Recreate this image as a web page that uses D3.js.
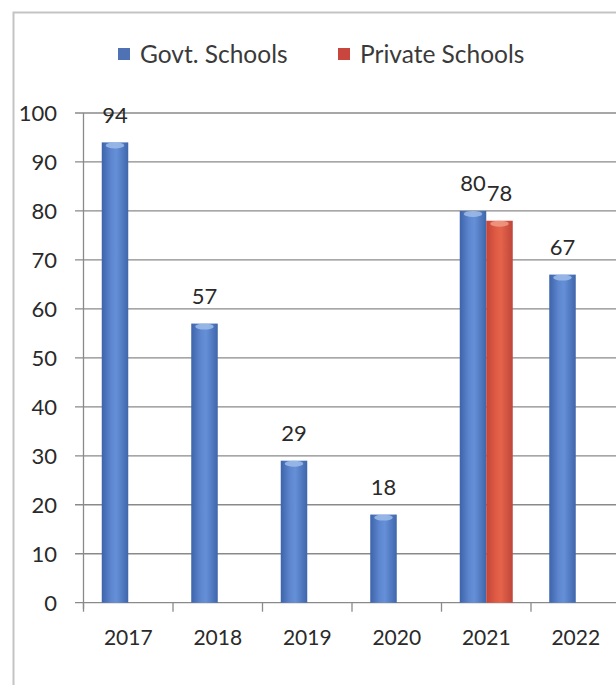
<!DOCTYPE html>
<html><head><meta charset="utf-8">
<script src="https://cdn.jsdelivr.net/npm/d3@7"></script>
<style>body{margin:0;background:#fff}svg{display:block}</style>
</head><body>
<svg id="c" width="616" height="685"></svg>
<script>
const categories = ["2017","2018","2019","2020","2021","2022"];
const seriesNames = ["Govt. Schools","Private Schools"];
const govt = [94,57,29,18,80,67];
const priv = [null,null,null,null,78,null];
const yTicks = [0,10,20,30,40,50,60,70,80,90,100];

const svg = d3.select("#c");
const font = "Lato, 'Open Sans', sans-serif";
const W = 616, H = 685;
const left = 83.5, step = 89.5;
const x = d3.scaleBand().domain(categories).range([left, left + step*categories.length]).paddingInner(0).paddingOuter(0);
const x1 = d3.scaleBand().domain(seriesNames).range([step/2 - 26.5, step/2 + 26.5]);
const y = d3.scaleLinear().domain([0,100]).range([602.7, 113]);

const defs = svg.append("defs");
function grad(id, stops){
  const g = defs.append("linearGradient").attr("id", id).attr("x1","0").attr("x2","1").attr("y1","0").attr("y2","0");
  stops.forEach(s => g.append("stop").attr("offset", s[0]).attr("stop-color", s[1]));
}
grad("gBlue", [[0,"#3d64aa"],[0.35,"#5d86cf"],[0.55,"#6590d8"],[1,"#3f66ab"]]);
grad("gRed", [[0,"#c2443a"],[0.35,"#df5a44"],[0.55,"#e4634a"],[1,"#c0463a"]]);

// frame
svg.append("path").attr("d", `M13.5,${H} V12.5 H${W}`).attr("fill","none").attr("stroke","#c4c4c4").attr("stroke-width",2);

// gridlines
svg.append("g").selectAll("line").data(yTicks).join("line")
  .attr("x1", 75).attr("x2", W).attr("y1", d => y(d)).attr("y2", d => y(d))
  .attr("stroke", "#8a8a8a").attr("stroke-width", 1.3);

// y axis line
svg.append("line").attr("x1", left).attr("x2", left).attr("y1", y(100)).attr("y2", y(0)+6)
  .attr("stroke", "#8a8a8a").attr("stroke-width", 1.3);

// y labels
svg.append("g").selectAll("text").data(yTicks).join("text")
  .attr("x", 57).attr("y", d => y(d)).attr("dy", "0.36em").attr("text-anchor","end")
  .attr("font-family", font).attr("font-size", 22).attr("fill","#2a2a2a").text(d => d);

// x ticks
const bounds = categories.map(c => x(c));
svg.append("g").selectAll("line").data(bounds).join("line")
  .attr("x1", d => d).attr("x2", d => d).attr("y1", y(0)).attr("y2", y(0)+9)
  .attr("stroke", "#8a8a8a").attr("stroke-width", 1.3);

// x labels
svg.append("g").selectAll("text").data(categories).join("text")
  .attr("x", d => x(d) + x.bandwidth()/2).attr("y", 637).attr("dy","0.36em").attr("text-anchor","middle")
  .attr("font-family", font).attr("font-size", 21).attr("fill","#2a2a2a").text(d => d);

// bars
const data = [];
categories.forEach((c,i) => {
  if (govt[i] != null) data.push({c, s: seriesNames[0], v: govt[i], fill: "url(#gBlue)", cap: "#9fbcea"});
  if (priv[i] != null) data.push({c, s: seriesNames[1], v: priv[i], fill: "url(#gRed)", cap: "#f09a86"});
});
const bars = svg.append("g").selectAll("g").data(data).join("g");
bars.append("rect")
  .attr("x", d => x(d.c) + x1(d.s)).attr("width", x1.bandwidth())
  .attr("y", d => y(d.v)).attr("height", d => y(0) - y(d.v))
  .attr("fill", d => d.fill);
bars.append("ellipse")
  .attr("cx", d => x(d.c) + x1(d.s) + x1.bandwidth()/2).attr("cy", d => y(d.v) + 3)
  .attr("rx", d => x1.bandwidth()/2 - 4).attr("ry", 3)
  .attr("fill", d => d.cap).attr("opacity", 0.85);

// data labels
bars.append("text")
  .attr("x", d => x(d.c) + x1(d.s) + x1.bandwidth()/2)
  .attr("y", d => y(d.v) - 19.5)
  .attr("text-anchor","middle").attr("font-family", font).attr("font-size", 22).attr("fill","#2a2a2a")
  .text(d => d.v);

// legend
const legend = svg.append("g");
const legItems = [
  {name: seriesNames[0], color: "#4f72b4", x: 118},
  {name: seriesNames[1], color: "#c9463f", x: 338}
];
const li = legend.selectAll("g").data(legItems).join("g").attr("transform", d => `translate(${d.x},54)`);
li.append("rect").attr("x",0).attr("y",-6).attr("width",12).attr("height",12).attr("fill", d => d.color);
li.append("text").attr("x", 22).attr("y", 0).attr("dy","0.36em")
  .attr("font-family", font).attr("font-size", 24.5).attr("fill","#3a3a3a").text(d => d.name);
</script>
</body></html>
